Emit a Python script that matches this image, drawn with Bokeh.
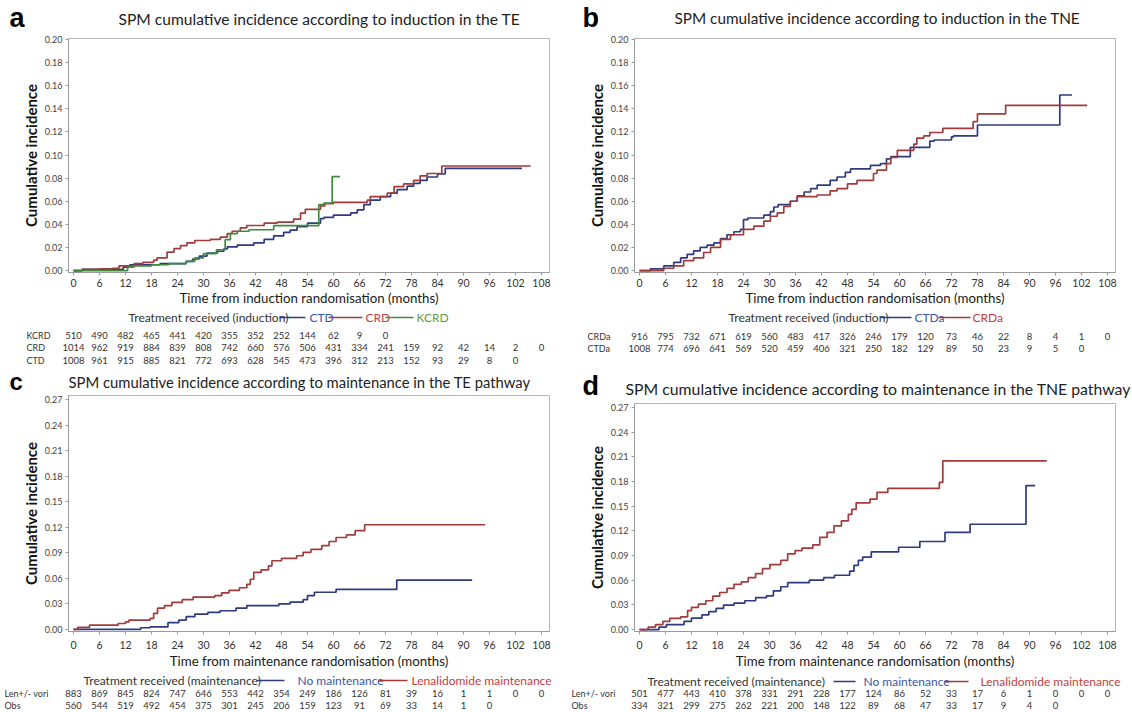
from bokeh.plotting import figure
from bokeh.layouts import column, row
from bokeh.models import Range1d, FixedTicker, PrintfTickFormatter, Plot
from bokeh.core.properties import value
from bokeh.embed import file_html
from bokeh.resources import INLINE

# ---------------- data ----------------
X_TICKS = [0, 6, 12, 18, 24, 30, 36, 42, 48, 54, 60, 66, 72, 78, 84, 90, 96, 102, 108]
Y_TICKS_AB = [0.00, 0.02, 0.04, 0.06, 0.08, 0.10, 0.12, 0.14, 0.16, 0.18, 0.20]
Y_TICKS_CD = [0.00, 0.03, 0.06, 0.09, 0.12, 0.15, 0.18, 0.21, 0.24, 0.27]

# panel a (TE, induction)
a_ctd_t = [0, 2, 11.5, 13, 20, 26, 27.5, 29, 30.8, 33.2, 34.7, 35.5, 37.8, 41.6, 44, 46.2, 48.5, 50, 51.6,
           54, 57, 57.8, 60, 64, 65.5, 67, 68.5, 70.8, 73.2, 74.7, 77, 78.5, 80, 81.6, 84, 85.8, 103.5]
a_ctd_v = [0, 0.001, 0.003, 0.005, 0.006, 0.008, 0.010, 0.0124, 0.015, 0.0167, 0.0187, 0.0204, 0.022, 0.024,
           0.027, 0.030, 0.033, 0.035, 0.038, 0.041, 0.045, 0.046, 0.048, 0.050, 0.0526, 0.057, 0.061, 0.064,
           0.067, 0.070, 0.073, 0.0755, 0.078, 0.081, 0.0836, 0.0885, 0.0885]
a_crd_t = [0, 2, 6, 9, 10.5, 14, 16, 18.5, 19.3, 21.6, 23.2, 24.7, 26.2, 28, 31.6, 33.9, 35.5, 36.6, 38.5, 40,
           44, 47, 50.8, 52.4, 53.5, 57, 58, 60, 67.8, 68.5, 72.4, 74, 76.2, 78.5, 80, 81.6, 85, 105.5]
a_crd_v = [0, 0.001, 0.0015, 0.002, 0.004, 0.006, 0.007, 0.009, 0.011, 0.016, 0.019, 0.0216, 0.024, 0.026,
           0.027, 0.029, 0.032, 0.034, 0.037, 0.039, 0.041, 0.042, 0.0445, 0.0497, 0.053, 0.056, 0.058, 0.059,
           0.061, 0.064, 0.067, 0.0727, 0.075, 0.078, 0.082, 0.084, 0.0905, 0.0905]
a_kcrd_t = [0, 12.5, 14, 18, 22, 26, 28, 30, 33, 35, 36.2, 37.8, 40.5, 46.2, 56.6, 57.8, 59.7, 61.5]
a_kcrd_v = [0, 0.003, 0.004, 0.005, 0.006, 0.008, 0.011, 0.0147, 0.018, 0.0267, 0.032, 0.034, 0.0353, 0.0388,
            0.057, 0.0583, 0.0813, 0.0813]

# panel b (TNE, induction)
b_ctda_t = [0, 2.5, 5.6, 7.9, 9.5, 11, 12.5, 14, 15.6, 17.2, 18.7, 20.2, 21.8, 23.3, 24, 25, 28.7, 30.2, 31, 32,
            34.8, 36.4, 38, 39.5, 41, 44, 45.6, 47.5, 48.7, 53.3, 55.6, 57, 58, 62.5, 67, 68, 72, 72.5, 78, 97, 99.8]
b_ctda_v = [0, 0.0014, 0.004, 0.007, 0.011, 0.014, 0.017, 0.020, 0.022, 0.024, 0.0276, 0.031, 0.0336, 0.0356,
            0.044, 0.0455, 0.048, 0.051, 0.055, 0.057, 0.060, 0.0646, 0.068, 0.071, 0.074, 0.078, 0.081, 0.085,
            0.088, 0.091, 0.0925, 0.0967, 0.0987, 0.1067, 0.112, 0.113, 0.1158, 0.1166, 0.126, 0.152, 0.152]
b_crda_t = [0, 5.6, 7.9, 10.2, 12.5, 14.8, 16.4, 18.7, 21, 24, 26.4, 28.7, 30.2, 31.8, 33.3, 34.8, 36.4, 41,
            44, 45.6, 48, 50.2, 54, 54.8, 57, 58, 59.5, 63.3, 64, 65.6, 67, 70, 77, 78, 84.5, 103.3]
b_crda_v = [0, 0.002, 0.004, 0.0085, 0.011, 0.0156, 0.020, 0.027, 0.031, 0.0356, 0.0384, 0.0427, 0.047, 0.050,
            0.0555, 0.060, 0.064, 0.0654, 0.069, 0.071, 0.075, 0.078, 0.084, 0.087, 0.0925, 0.098, 0.104, 0.1095,
            0.1147, 0.1166, 0.1195, 0.123, 0.129, 0.1357, 0.143, 0.143]

# panel c (TE, maintenance)
c_len_t = [0, 1, 3.7, 10.3, 12, 12.8, 17.7, 18.5, 19.4, 21, 22.7, 25.1, 27.6, 32.6, 34.2, 35.9, 38.3, 40, 40.8,
           41.6, 43.3, 45, 45.8, 48, 51.5, 53, 54.8, 57.3, 59, 60.6, 63, 65, 67.2, 95]
c_len_v = [0, 0.0024, 0.005, 0.007, 0.009, 0.011, 0.013, 0.019, 0.025, 0.028, 0.0318, 0.035, 0.038, 0.0397,
           0.043, 0.046, 0.049, 0.053, 0.059, 0.067, 0.070, 0.0747, 0.0807, 0.0834, 0.0866, 0.0906, 0.094,
           0.0985, 0.1033, 0.108, 0.111, 0.116, 0.123, 0.123]
c_obs_t = [0, 15.5, 17.7, 21.8, 24.3, 26, 28, 31, 33.8, 37.5, 40, 47.4, 50, 53, 54, 55.6, 60.6, 74.6, 92]
c_obs_v = [0, 0.002, 0.003, 0.008, 0.011, 0.015, 0.018, 0.020, 0.022, 0.025, 0.028, 0.030, 0.032, 0.035,
           0.0397, 0.0437, 0.047, 0.058, 0.058]

# panel d (TNE, maintenance)
d_len_t = [0, 2, 3.7, 5.4, 7, 9.5, 11.1, 12, 13.6, 15.3, 16.9, 18.5, 20.2, 21.8, 23.5, 25.1, 26.8, 28.4, 30.1,
           32.6, 34.2, 35.9, 37.5, 40, 41.6, 43.3, 44.9, 46.6, 48.2, 49, 50, 53.2, 54.8, 57.3, 69.2, 70, 94]
d_len_v = [0, 0.003, 0.006, 0.010, 0.0136, 0.0155, 0.023, 0.027, 0.031, 0.035, 0.0405, 0.045, 0.050, 0.055,
           0.058, 0.063, 0.068, 0.074, 0.079, 0.084, 0.092, 0.096, 0.099, 0.103, 0.112, 0.118, 0.126, 0.132,
           0.140, 0.146, 0.154, 0.1585, 0.1667, 0.1715, 0.179, 0.205, 0.205]
d_obs_t = [0, 4.5, 6.2, 10.3, 12, 14.4, 16, 17.7, 19.4, 21.8, 24.3, 26.8, 29.3, 30.9, 32.6, 34.2, 39.2, 42.5,
           45, 48.5, 49.5, 50.5, 51.5, 53.5, 59.8, 64.7, 70.5, 76.3, 89.2, 91.3]
d_obs_v = [0, 0.003, 0.006, 0.010, 0.0138, 0.0177, 0.0217, 0.0256, 0.0296, 0.032, 0.035, 0.0387, 0.041, 0.047,
           0.052, 0.057, 0.060, 0.063, 0.066, 0.071, 0.078, 0.084, 0.088, 0.0945, 0.100, 0.107, 0.118, 0.128,
           0.175, 0.175]

# numbers at risk
a_risk_kcrd = [510, 490, 482, 465, 441, 420, 355, 352, 252, 144, 62, 9, 0]
a_risk_crd = [1014, 962, 919, 884, 839, 808, 742, 660, 576, 506, 431, 334, 241, 159, 92, 42, 14, 2, 0]
a_risk_ctd = [1008, 961, 915, 885, 821, 772, 693, 628, 545, 473, 396, 312, 213, 152, 93, 29, 8, 0]
b_risk_crda = [916, 795, 732, 671, 619, 560, 483, 417, 326, 246, 179, 120, 73, 46, 22, 8, 4, 1, 0]
b_risk_ctda = [1008, 774, 696, 641, 569, 520, 459, 406, 321, 250, 182, 129, 89, 50, 23, 9, 5, 0]
c_risk_len = [883, 869, 845, 824, 747, 646, 553, 442, 354, 249, 186, 126, 81, 39, 16, 1, 1, 0, 0]
c_risk_obs = [560, 544, 519, 492, 454, 375, 301, 245, 206, 159, 123, 91, 69, 33, 14, 1, 0]
d_risk_len = [501, 477, 443, 410, 378, 331, 291, 228, 177, 124, 86, 52, 33, 17, 6, 1, 0, 0, 0]
d_risk_obs = [334, 321, 299, 275, 262, 221, 200, 148, 122, 89, 68, 47, 33, 17, 9, 4, 0]

# ---------------- style / layout ----------------
FONT = "Lato"
BLUE = "#2e3b80"
RED = "#a23b3b"
GREEN = "#3e8b3e"
BLUE_T = "#3a58a8"
RED_T = "#c43c3c"
GREEN_T = "#5f9a4a"
GRAY = "#9a9a9a"

W = 566
K = 4.333            # px per month
FL = 68              # frame left (canvas px)
FR = 549             # frame right (canvas px)
X0 = 73              # canvas px of month 0
XS = (FL - X0) / K
XE = XS + (FR - FL) / K
HAS_FA = "frame_align" in Plot.properties()


def mx(px):
    """canvas px -> months (layout helper)"""
    return (px - X0) / K


def bare(f):
    f.outline_line_color = None
    f.xgrid.visible = False
    f.ygrid.visible = False
    if HAS_FA:
        f.frame_align = False
    return f


def make_header(height, letter, letter_x, letter_y, l_size, title, title_x, title_y, t_size):
    h = figure(width=W, height=height, x_range=Range1d(0, W), y_range=Range1d(height, 0),
               output_backend="svg", toolbar_location=None, min_border=0,
               min_border_left=0, min_border_right=0, min_border_top=0, min_border_bottom=0,
               x_axis_location=None, y_axis_location=None)
    bare(h)
    h.text(x=[letter_x], y=[letter_y], text=[letter], text_font=value("Liberation Sans"), text_font_size=l_size,
           text_font_style="bold", text_color="#000000", text_align="left", text_baseline="middle")
    h.text(x=[title_x], y=[title_y], text=[title], text_font=value(FONT), text_font_size=t_size,
           text_color="#222222", text_align="left", text_baseline="middle")
    return h


def make_chart(height, top, frame_h, yr, yticks, xlabel, series, tick_so, lab_so):
    p = figure(width=W, height=height, x_range=Range1d(XS, XE), y_range=Range1d(*yr),
               output_backend="svg", toolbar_location=None,
               min_border_left=FL, min_border_right=W - FR, min_border_top=top,
               min_border_bottom=height - top - frame_h)
    p.outline_line_color = "#b5b5b5"
    p.xgrid.visible = False
    p.ygrid.visible = False
    if HAS_FA:
        p.frame_align = False

    p.xaxis.ticker = FixedTicker(ticks=X_TICKS)
    p.xaxis.major_label_text_font = FONT
    p.xaxis.major_label_text_font_size = "10.5px"
    p.xaxis.major_label_text_color = "#333333"
    p.xaxis.major_label_standoff = tick_so
    p.xaxis.axis_label = xlabel
    p.xaxis.axis_label_text_font = FONT
    p.xaxis.axis_label_text_font_size = "13.3px"
    p.xaxis.axis_label_text_font_style = "normal"
    p.xaxis.axis_label_text_color = "#1a1a1a"
    p.xaxis.axis_label_standoff = lab_so

    p.yaxis.ticker = FixedTicker(ticks=yticks)
    p.yaxis.formatter = PrintfTickFormatter(format="%.2f")
    p.yaxis.major_label_text_font = FONT
    p.yaxis.major_label_text_font_size = "9px"
    p.yaxis.major_label_text_color = "#444444"
    p.yaxis.major_label_standoff = 3
    p.yaxis.axis_label = "Cumulative incidence"
    p.yaxis.axis_label_text_font = FONT
    p.yaxis.axis_label_text_font_size = "15px"
    p.yaxis.axis_label_text_font_style = "bold"
    p.yaxis.axis_label_text_color = "#111111"
    p.yaxis.axis_label_standoff = 2

    for ax in (p.xaxis, p.yaxis):
        ax.axis_line_color = GRAY
        ax.major_tick_line_color = GRAY
        ax.minor_tick_line_color = None
        ax.major_tick_in = 0
        ax.major_tick_out = 3

    for t, v, c in series:
        p.step(t, v, mode="after", line_color=c, line_width=1.7)
    return p


def make_table(height, label_px, rows, leg_y, leg_text, leg_items):
    t = figure(width=W, height=height, x_range=Range1d(mx(0), mx(W)), y_range=Range1d(height, 0),
               output_backend="svg", toolbar_location=None, min_border=0,
               min_border_left=0, min_border_right=0, min_border_top=0, min_border_bottom=0,
               x_axis_location=None, y_axis_location=None)
    bare(t)
    # legend line
    t.text(x=[mx(leg_text[1])], y=[leg_y], text=[leg_text[0]], text_font=value(FONT),
           text_font_size="12px", text_color="#333333", text_align="left", text_baseline="middle")
    for (x0, x1, lc, lab, lx, tc) in leg_items:
        t.segment(x0=[mx(x0)], y0=[leg_y], x1=[mx(x1)], y1=[leg_y], line_color=lc, line_width=1.3)
        t.text(x=[mx(lx)], y=[leg_y], text=[lab], text_font=value(FONT), text_font_size="12px",
               text_color=tc, text_align="left", text_baseline="middle")
    # numbers at risk
    for name, counts, y in rows:
        t.text(x=[mx(label_px)], y=[y], text=[name], text_font=value(FONT), text_font_size="9px",
               text_color="#333333", text_align="left", text_baseline="middle")
        t.text(x=X_TICKS[:len(counts)], y=[y] * len(counts), text=[str(c) for c in counts],
               text_font=value(FONT), text_font_size="9.5px", text_color="#333333",
               text_align="center", text_baseline="middle")
    return t


YR_AB = (-0.0017, 0.2009)
YR_CD = (-0.0024, 0.2748)

head_a = make_header(34, "a", 9, 17, "27px", "SPM cumulative incidence according to induction in the TE", 118, 18,
                     "15.6px")
chart_a = make_chart(274, 4, 235, YR_AB, Y_TICKS_AB, "Time from induction randomisation (months)",
                     [(a_ctd_t, a_ctd_v, BLUE), (a_crd_t, a_crd_v, RED), (a_kcrd_t, a_kcrd_v, GREEN)], 3, 0)
table_a = make_table(58, 26,
                     [("KCRD", a_risk_kcrd, 26.5), ("CRD", a_risk_crd, 39), ("CTD", a_risk_ctd, 51.5)],
                     9, ("Treatment  received  (induction)", 128),
                     [(279, 305, BLUE, "CTD", 309, BLUE_T), (328, 362, RED, "CRD", 365, RED_T),
                      (385, 413, GREEN, "KCRD", 416, GREEN_T)])

head_b = make_header(34, "b", 16, 17, "27px", "SPM cumulative incidence according to induction in the TNE", 108,
                     17, "15.3px")
chart_b = make_chart(274, 4, 235, YR_AB, Y_TICKS_AB, "Time from induction randomisation (months)",
                     [(b_ctda_t, b_ctda_v, BLUE), (b_crda_t, b_crda_v, RED)], 3, 0)
table_b = make_table(58, 21,
                     [("CRDa", b_risk_crda, 28), ("CTDa", b_risk_ctda, 40)],
                     9, ("Treatment  received  (induction)", 162),
                     [(314, 345, BLUE, "CTDa", 348, BLUE_T), (372, 404, RED, "CRDa", 406, RED_T)])

head_c = make_header(28, "c", 9, 14.5, "24px",
                     "SPM cumulative incidence according to maintenance in the TE pathway", 68, 15, "14.8px")
chart_c = make_chart(277, 1, 236, YR_CD, Y_TICKS_CD, "Time from maintenance randomisation (months)",
                     [(c_obs_t, c_obs_v, BLUE), (c_len_t, c_len_v, RED)], 6, 1)
table_c = make_table(41, 4,
                     [("Len+/- vori", c_risk_len, 22), ("Obs", c_risk_obs, 34)],
                     9, ("Treatment  received  (maintenance)", 83),
                     [(256, 284, BLUE, "No maintenance", 297, BLUE_T),
                      (378, 407, RED, "Lenalidomide  maintenance", 411, RED_T)])

head_d = make_header(35, "d", 16, 19, "27px",
                     "SPM cumulative incidence according to maintenance in the TNE pathway", 59, 22, "15.8px")
chart_d = make_chart(270, 2, 228, YR_CD, Y_TICKS_CD, "Time from maintenance randomisation (months)",
                     [(d_obs_t, d_obs_v, BLUE), (d_len_t, d_len_v, RED)], 6, 1)
table_d = make_table(41, 5,
                     [("Len+/- vori", d_risk_len, 22), ("Obs", d_risk_obs, 34)],
                     10, ("Treatment  received  (maintenance)", 81),
                     [(267, 289, BLUE, "No maintenance", 297, BLUE_T),
                      (378, 402, RED, "Lenalidomide  maintenance", 414, RED_T)])

root = column(row(column(head_a, chart_a, table_a), column(head_b, chart_b, table_b)),
              row(column(head_c, chart_c, table_c), column(head_d, chart_d, table_d)))

open("out.html", "w").write(file_html(root, INLINE))
